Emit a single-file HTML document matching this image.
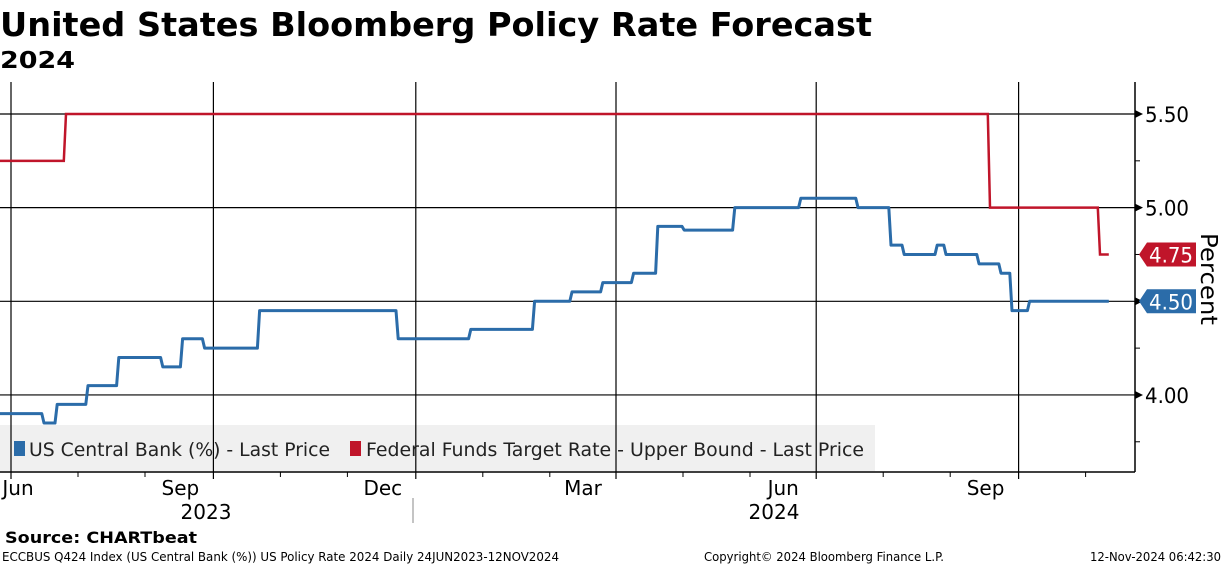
<!DOCTYPE html>
<html><head><meta charset="utf-8"><style>
html,body{margin:0;padding:0;background:#fff;width:1224px;height:566px;overflow:hidden}
svg{display:block}
</style></head><body>
<svg id="c" width="1224" height="566" xmlns="http://www.w3.org/2000/svg">
<text x="0" y="36" font-family="'DejaVu Sans',sans-serif" font-weight="bold" font-size="33" textLength="872" lengthAdjust="spacingAndGlyphs">United States Bloomberg Policy Rate Forecast</text>
<text x="0" y="68" font-family="'DejaVu Sans',sans-serif" font-weight="bold" font-size="23" textLength="75" lengthAdjust="spacingAndGlyphs">2024</text>
<g id="grid"></g>
<rect x="0" y="425" width="875" height="46" fill="#f0f0f0"/>
<g id="vgrid"></g>
<g id="series"></g>
<g>
<rect x="14" y="441" width="11" height="15" fill="#2b6ca9"/>
<text x="29" y="456" font-family="'DejaVu Sans',sans-serif" font-size="19" fill="#222" textLength="301" lengthAdjust="spacingAndGlyphs">US Central Bank (%) - Last Price</text>
</g>
<g>
<rect x="350" y="441" width="11" height="15" fill="#c0152a"/>
<text x="366" y="456" font-family="'DejaVu Sans',sans-serif" font-size="19" fill="#222" textLength="498" lengthAdjust="spacingAndGlyphs">Federal Funds Target Rate - Upper Bound - Last Price</text>
</g>
<line x1="0" y1="472" x2="1135" y2="472" stroke="#000" stroke-width="1.5"/>
<line x1="1135" y1="82" x2="1135" y2="472" stroke="#000" stroke-width="1.5"/>
<g id="xaxis"></g>
<g id="yaxis"></g>
<text x="206" y="519" text-anchor="middle" font-family="'DejaVu Sans',sans-serif" font-size="20">2023</text>
<text x="774" y="519" text-anchor="middle" font-family="'DejaVu Sans',sans-serif" font-size="20">2024</text>
<line x1="413" y1="498" x2="413" y2="523" stroke="#888"/>
<text transform="translate(1201,279) rotate(90)" text-anchor="middle" font-family="'DejaVu Sans',sans-serif" font-size="23" textLength="92" lengthAdjust="spacingAndGlyphs">Percent</text>
<text x="5" y="543" font-family="'DejaVu Sans',sans-serif" font-weight="bold" font-size="16" textLength="192" lengthAdjust="spacingAndGlyphs">Source: CHARTbeat</text>
<text x="2" y="561" font-family="'DejaVu Sans',sans-serif" font-size="12" textLength="557" lengthAdjust="spacingAndGlyphs">ECCBUS Q424 Index (US Central Bank (%)) US Policy Rate 2024  Daily 24JUN2023-12NOV2024</text>
<text x="704" y="561" font-family="'DejaVu Sans',sans-serif" font-size="12" textLength="240" lengthAdjust="spacingAndGlyphs">Copyright© 2024 Bloomberg Finance L.P.</text>
<text x="1090" y="561" font-family="'DejaVu Sans',sans-serif" font-size="12" textLength="131" lengthAdjust="spacingAndGlyphs">12-Nov-2024 06:42:30</text>
</svg>
<script>
const blueDates=["2023-06-24","2023-07-17","2023-07-23","2023-08-06","2023-08-20","2023-09-09","2023-09-18","2023-09-28","2023-10-23","2023-12-25","2024-01-27","2024-02-25","2024-03-13","2024-03-27","2024-04-10","2024-04-21","2024-05-03","2024-05-26","2024-06-25","2024-07-21","2024-08-05","2024-08-11","2024-08-26","2024-08-30","2024-09-14","2024-09-24","2024-09-29","2024-10-07"];
const blueValues=[3.90,3.85,3.95,4.05,4.20,4.15,4.30,4.25,4.45,4.30,4.35,4.50,4.55,4.60,4.65,4.90,4.88,5.00,5.05,5.00,4.80,4.75,4.80,4.75,4.70,4.65,4.45,4.50];
const redDates=["2023-06-24","2023-07-27","2024-09-19","2024-11-08"];
const redValues=[5.25,5.50,5.00,4.75];
const endDate="2024-11-12";
const yTicks=[4.00,4.50,5.00,5.50];
const gridDates=["2023-07-02","2023-10-02","2024-01-02","2024-04-02","2024-07-02","2024-10-02"];
const monthLabels=["Jun","Sep","Dec","Mar","Jun","Sep"];
const NS="http://www.w3.org/2000/svg";
const t0=Date.parse("2023-07-27");
function xs(d){return 66+2.2*(Date.parse(d)-t0)/864e5;}
function ys(v){return 114+(5.5-v)*187.3;}
function el(tag,attrs,parent){const e=document.createElementNS(NS,tag);for(const k in attrs)e.setAttribute(k,attrs[k]);parent.appendChild(e);return e;}
const grid=document.getElementById('grid'),vgrid=document.getElementById('vgrid'),xaxis=document.getElementById('xaxis'),yaxis=document.getElementById('yaxis'),series=document.getElementById('series');
yTicks.forEach(v=>{
  const y=ys(v);
  const g=el('line',{x1:0,x2:1135,y1:y,y2:y,stroke:'#000','stroke-width':1.2},grid);
  
  
  const tk=el('path',{d:`M1135 ${y-4}L1143 ${y}L1135 ${y+4}Z`,fill:'#000'},yaxis);
  
  
  const t=el('text',{x:1145,y:y+8,'font-family':"'DejaVu Sans',sans-serif",'font-size':21,textLength:44,lengthAdjust:'spacingAndGlyphs'},yaxis);
  t.textContent=v.toFixed(2);
  
  
});
[3.75,4.25,4.75,5.25].forEach(v=>{const m=el('line',{x1:1135,x2:1140,y1:ys(v),y2:ys(v),stroke:'#000'},yaxis);

});
gridDates.forEach((d,i)=>{
  const x=xs(d);
  const g=el('line',{x1:x,x2:x,y1:82,y2:479,stroke:'#000','stroke-width':1.2},vgrid);
  
  
  const t=el('text',{x:Math.max(x-33,18),y:495,'text-anchor':'middle','font-family':"'DejaVu Sans',sans-serif",'font-size':20},xaxis);
  t.textContent=monthLabels[i];
  
  
  for(let k=1;k<3;k++){const mx=x+k*201/3;if(mx<1135){const m=el('line',{x1:mx,x2:mx,y1:472,y2:477,stroke:'#000'},xaxis);
  
  }}
});
function stepPath(dates,vals){
  let p=`M${xs(dates[0])} ${ys(vals[0])}`;
  for(let i=1;i<dates.length;i++){const x=xs(dates[i]);p+=`L${x-2.2} ${ys(vals[i-1])}L${x} ${ys(vals[i])}`;}
  p+=`L${xs(endDate)} ${ys(vals[vals.length-1])}`;return p;
}
const r=el('path',{d:stepPath(redDates,redValues),fill:'none',stroke:'#c0152a','stroke-width':2.5},series);


const b=el('path',{d:stepPath(blueDates,blueValues),fill:'none',stroke:'#2b6ca9','stroke-width':3,'stroke-linejoin':'round'},series);


function badge(v,color,name){
  const y=ys(v);
  const g=el('g',{},yaxis);
  
  
  el('path',{d:`M1139 ${y}L1147 ${y-12}L1196 ${y-12}L1196 ${y+12}L1147 ${y+12}Z`,fill:color},g);
  const t=el('text',{x:1171,y:y+8,'text-anchor':'middle',fill:'#fff','font-family':"'DejaVu Sans',sans-serif",'font-size':21,textLength:44,lengthAdjust:'spacingAndGlyphs'},g);
  t.textContent=v.toFixed(2);
}
badge(redValues[redValues.length-1],'#c0152a','last-value-badge-fed-funds');
badge(blueValues[blueValues.length-1],'#2b6ca9','last-value-badge-us-central-bank');
</script>
</body></html>
